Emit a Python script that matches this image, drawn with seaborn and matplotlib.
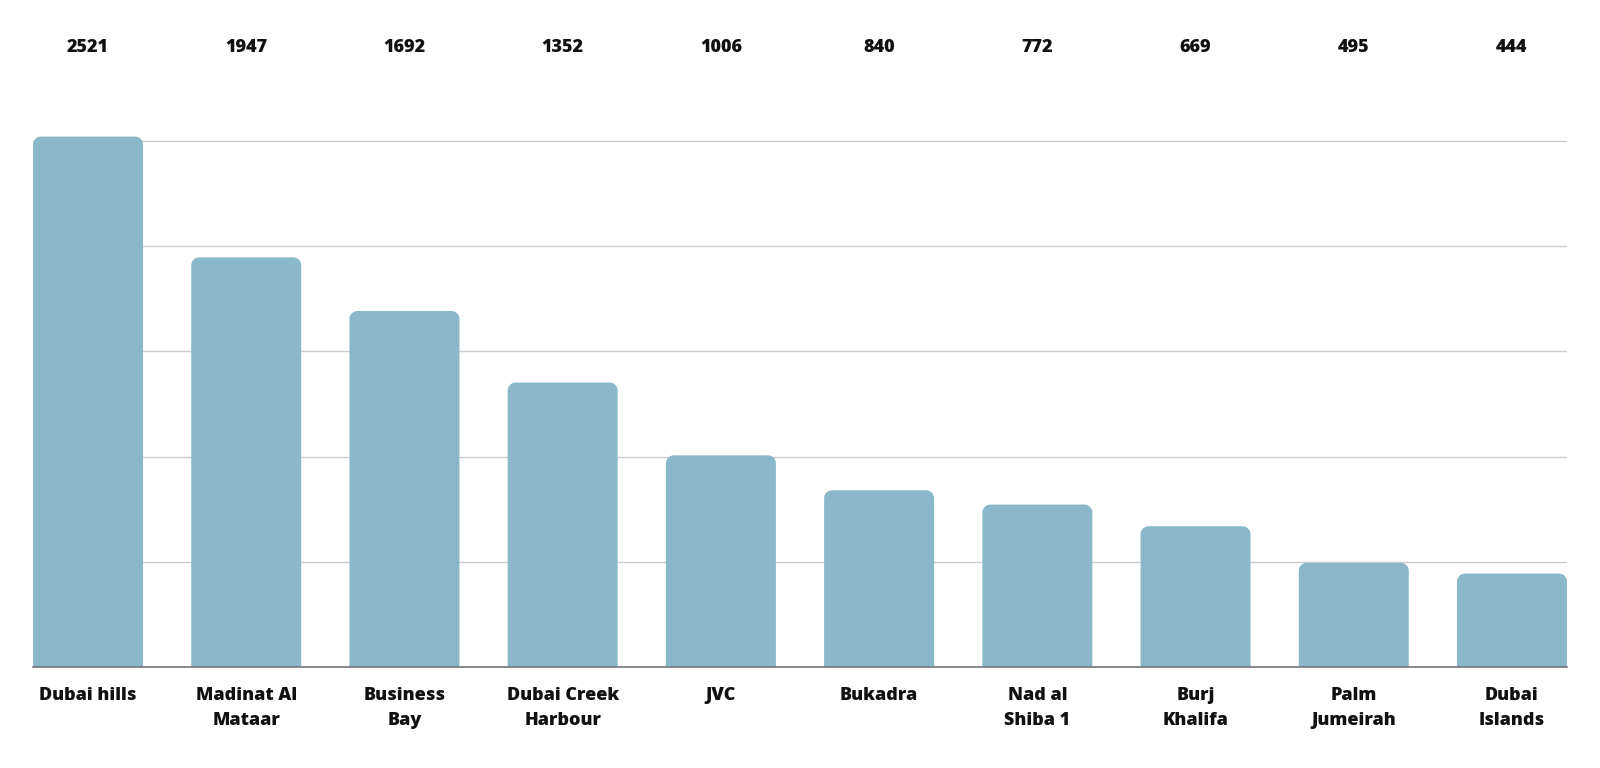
import matplotlib
matplotlib.use("Agg")
import matplotlib.pyplot as plt
import seaborn as sns
import pandas as pd
import numpy as np
from matplotlib.patches import Polygon
import matplotlib.transforms as mtransforms

categories = ["Dubai hills", "Madinat Al\nMataar", "Business\nBay", "Dubai Creek\nHarbour",
              "JVC", "Bukadra", "Nad al\nShiba 1", "Burj\nKhalifa", "Palm\nJumeirah", "Dubai\nIslands"]
values = [2521, 1947, 1692, 1352, 1006, 840, 772, 669, 495, 444]
gridlines = [500, 1000, 1500, 2000, 2500]

bar_color = "#8AB8CA"
font = "Open Sans"

sns.set_theme(style="white")
plt.rcParams['font.family'] = [font, 'DejaVu Sans']

W, H = 1600, 768
fig = plt.figure(figsize=(16, 7.68), dpi=100)
left_px, right_px, base_px = 33, 1567, 667
ymax = 2550
px_per_unit = (667 - 141) / 2500
top_px = base_px - ymax * px_per_unit
ax = fig.add_axes([left_px / W, (H - base_px) / H, (right_px - left_px) / W, (base_px - top_px) / H])

df = pd.DataFrame({"cat": categories, "val": values})
bw = 110 / 158.2
sns.barplot(data=df, x="cat", y="val", color=bar_color, width=bw, saturation=1, ax=ax, zorder=2)
ax.set_xlim(-bw / 2, len(values) - 1 + bw / 2)
ax.set_ylim(0, ymax)

# replace bars with rounded-top polygons
fig.canvas.draw()
xpx = ax.transData.transform([(0, 0), (1, 0)])
ypx = ax.transData.transform([(0, 0), (0, 1)])
x_ppu = xpx[1][0] - xpx[0][0]
y_ppu = ypx[1][1] - ypx[0][1]
r_px = 8
rx, ry = r_px / x_ppu, r_px / y_ppu
for p in list(ax.patches):
    x0, w, h = p.get_x(), p.get_width(), p.get_height()
    p.set_visible(False)
    t = np.linspace(0, np.pi / 2, 12)
    right_arc = [(x0 + w - rx + rx * np.cos(a), h - ry + ry * np.sin(a)) for a in t]
    left_arc = [(x0 + rx - rx * np.sin(a), h - ry + ry * np.cos(a)) for a in t]
    verts = [(x0, 0), (x0 + w, 0)] + right_arc + left_arc
    ax.add_patch(Polygon(verts, closed=True, facecolor=bar_color, edgecolor="none", zorder=2))

ax.set_yticks(gridlines)
ax.yaxis.grid(True, color="#cccccc", lw=1)
ax.set_axisbelow(True)
ax.tick_params(axis="y", left=False, labelleft=False)
ax.tick_params(axis="x", bottom=False, pad=8.5, labelsize=13)
for lbl in ax.get_xticklabels():
    lbl.set_fontweight("heavy")
    lbl.set_color("#111111")
    lbl.set_linespacing(1.6)
    lbl.set_verticalalignment("top")
for s in ["left", "right", "top"]:
    ax.spines[s].set_visible(False)
ax.spines["bottom"].set_color("#777777")
ax.spines["bottom"].set_linewidth(1.2)
ax.spines["bottom"].set_zorder(3)
ax.set_xlabel("")
ax.set_ylabel("")

trans = mtransforms.blended_transform_factory(ax.transData, fig.transFigure)
for i, v in enumerate(values):
    ax.text(i, (H - 48) / H, str(v), transform=trans, ha="center", va="center",
            fontsize=13, fontweight="heavy", color="#111111")

fig.savefig("out.png", dpi=100)
